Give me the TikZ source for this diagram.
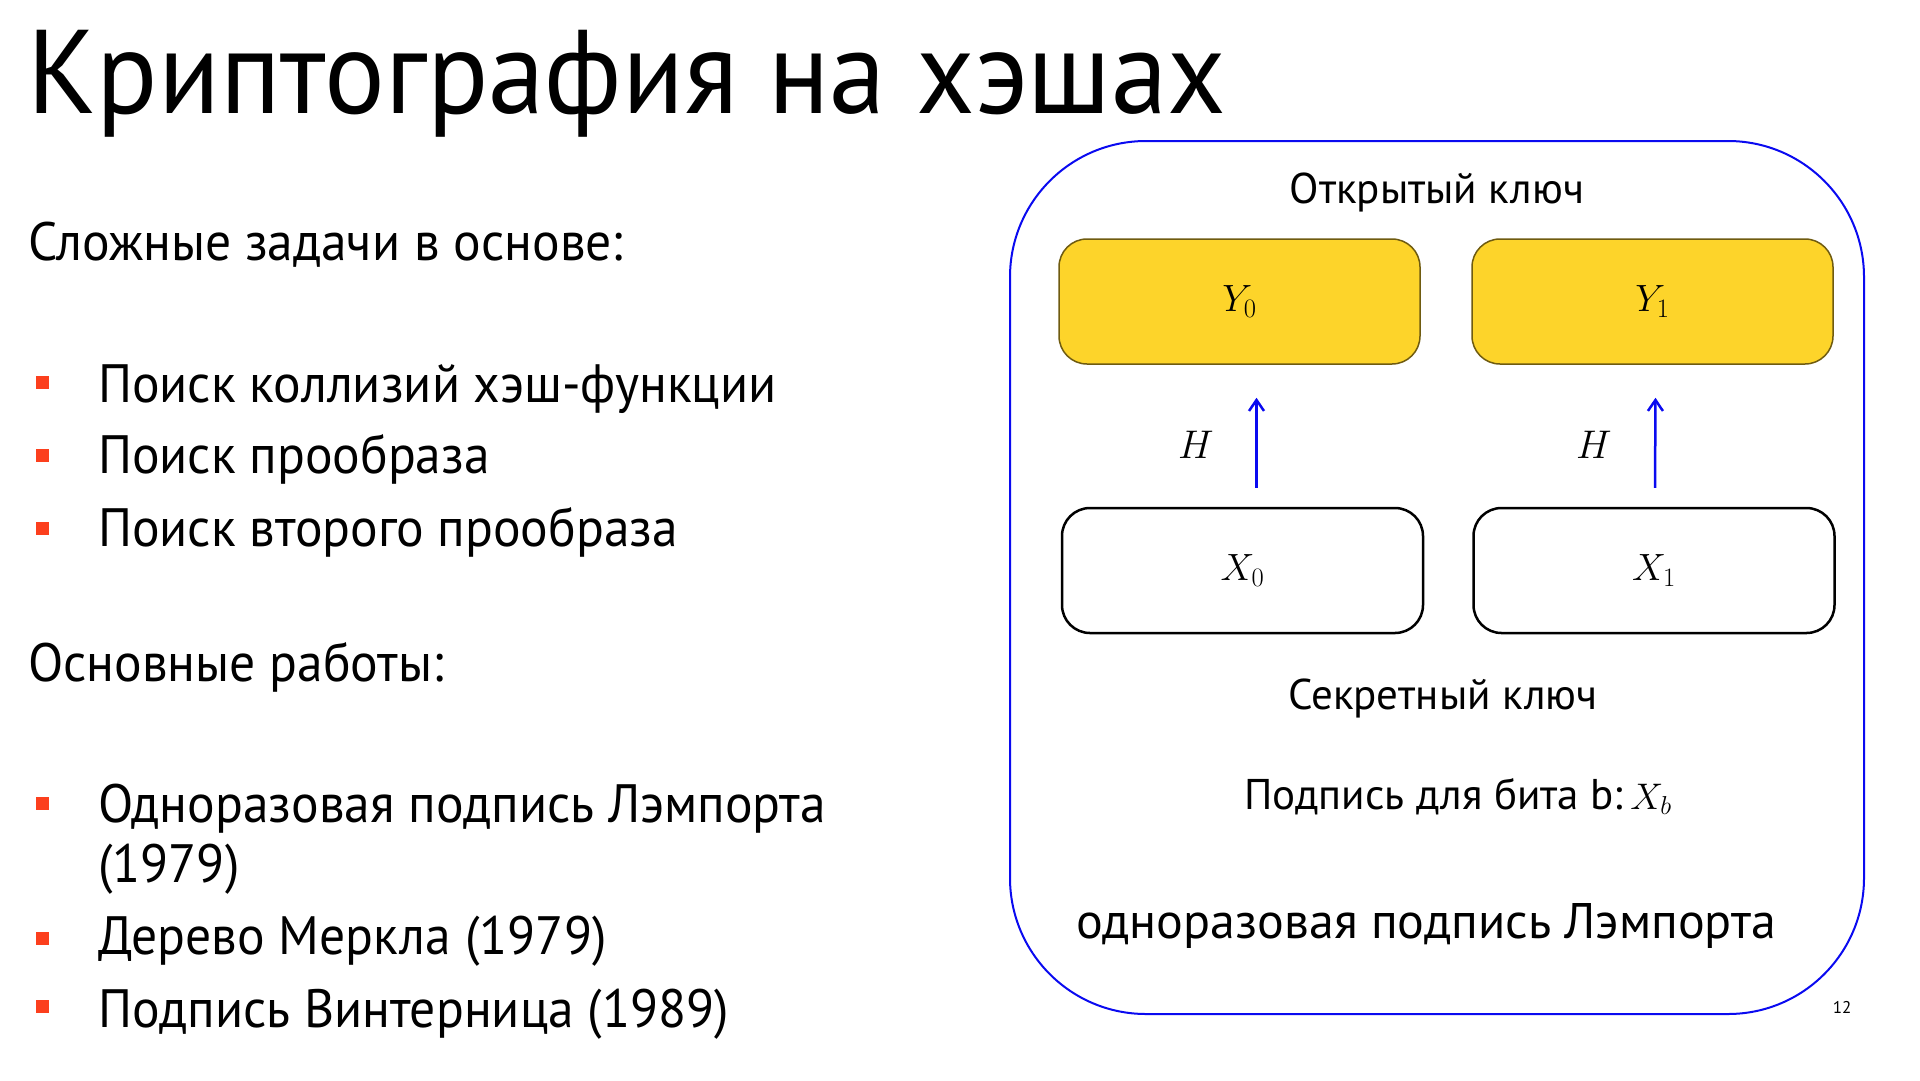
\RequirePackage{fix-cm}
\documentclass[tikz,border=0pt]{standalone}
\usepackage{fontspec}
\setmainfont{PT Sans}
\newfontfamily\narrowfont[FakeStretch=0.955]{PT Sans}
\usetikzlibrary{arrows.meta}

\definecolor{frameblue}{HTML}{0A0AF0}
\definecolor{keyyellow}{HTML}{FDD42A}
\definecolor{keyedge}{HTML}{6F5B10}
\definecolor{bulletred}{HTML}{FC3F1D}

\tikzset{
  title/.style={anchor=base west, inner sep=0pt, font=\narrowfont\fontsize{119}{130}\selectfont},
  bodytext/.style={anchor=base west, inner sep=0pt, font=\narrowfont\fontsize{54}{64}\selectfont},
  bulletbox/.style={fill=bulletred, minimum size=13pt, inner sep=0pt},
  frame/.style={draw=frameblue, line width=2pt, rounded corners=136pt, inner sep=0pt},
  pubkey/.style={draw=keyedge, fill=keyyellow, line width=1.5pt, rounded corners=28pt,
    minimum width=361pt, minimum height=125pt, inner sep=0pt, font=\fontsize{38}{42}\selectfont},
  seckey/.style={draw=black, fill=white, line width=2.5pt, rounded corners=28pt,
    minimum width=361pt, minimum height=125pt, inner sep=0pt, font=\fontsize{38}{42}\selectfont},
  hasharrow/.style={draw=frameblue, line width=2.5pt, -{Straight Barb[length=11pt,width=15pt,line width=2.5pt]}},
  panellabel/.style={anchor=base, inner sep=0pt, font=\fontsize{43}{50}\selectfont},
  hlabel/.style={inner sep=0pt, font=\fontsize{40}{46}\selectfont},
}

\begin{document}
\begin{tikzpicture}[x=1pt, y=-1pt]
  \useasboundingbox (0,0) rectangle (1920,1080);

  % heading
  \node[title] (head) at (27,113) {Криптография на хэшах};

  % left column
  \node[bodytext] (hard) at (28,260) {Сложные задачи в основе:};
  \node[bulletbox] (b1) at (42,382) {};
  \node[bulletbox] (b2) at (42,455) {};
  \node[bulletbox] (b3) at (42,528) {};
  \node[bodytext] (t1) at (98,402) {Поиск коллизий хэш-функции};
  \node[bodytext] (t2) at (98,473) {Поиск прообраза};
  \node[bodytext] (t3) at (98,546) {Поиск второго прообраза};

  \node[bodytext] (works) at (28,681) {Основные работы:};
  \node[bulletbox] (b4) at (42,803) {};
  \node[bulletbox] (b5) at (42,938) {};
  \node[bulletbox] (b6) at (42,1006) {};
  \node[bodytext] (w1) at (98,822) {Одноразовая подпись Лэмпорта};
  \node[bodytext] (w1b) at (98,882) {(1979)};
  \node[bodytext] (w2) at (98,954) {Дерево Меркла (1979)};
  \node[bodytext] (w3) at (98,1027) {Подпись Винтерница (1989)};

  % Lamport scheme panel
  \node[frame, minimum width=854pt, minimum height=873pt] (panel) at (1437,577.5) {};

  \node[panellabel] (pub) at (1437,203) {Открытый ключ};
  \node[pubkey] (Y0) at (1239.5,301.5) {$Y_0$};
  \node[pubkey] (Y1) at (1652.5,301.5) {$Y_1$};
  \node[seckey] (X0) at (1242.5,570.5) {$X_0$};
  \node[seckey] (X1) at (1654,570.5) {$X_1$};

  \draw[hasharrow] ([xshift=14pt,yshift=19pt]X0.north) -- ([xshift=17pt,yshift=-33pt]Y0.south);
  \draw[hasharrow] ([xshift=1pt,yshift=19pt]X1.north) -- ([xshift=3pt,yshift=-33pt]Y1.south);
  \node[hlabel] (h0) at (1196,445) {$H$};
  \node[hlabel] (h1) at (1594,445) {$H$};

  \node[panellabel] (sec) at (1443,709) {Секретный ключ};
  \node[panellabel] (sig) at (1458,809) {Подпись для бита b:\,{\fontsize{37}{42}\selectfont$X_b$}};
  \node[panellabel, font=\fontsize{50}{58}\selectfont] (name) at (1426,938) {одноразовая подпись Лэмпорта};

  % page number
  \node[anchor=base, inner sep=0pt, font=\fontsize{17}{20}\selectfont] (page) at (1842,1013) {12};
\end{tikzpicture}
\end{document}
